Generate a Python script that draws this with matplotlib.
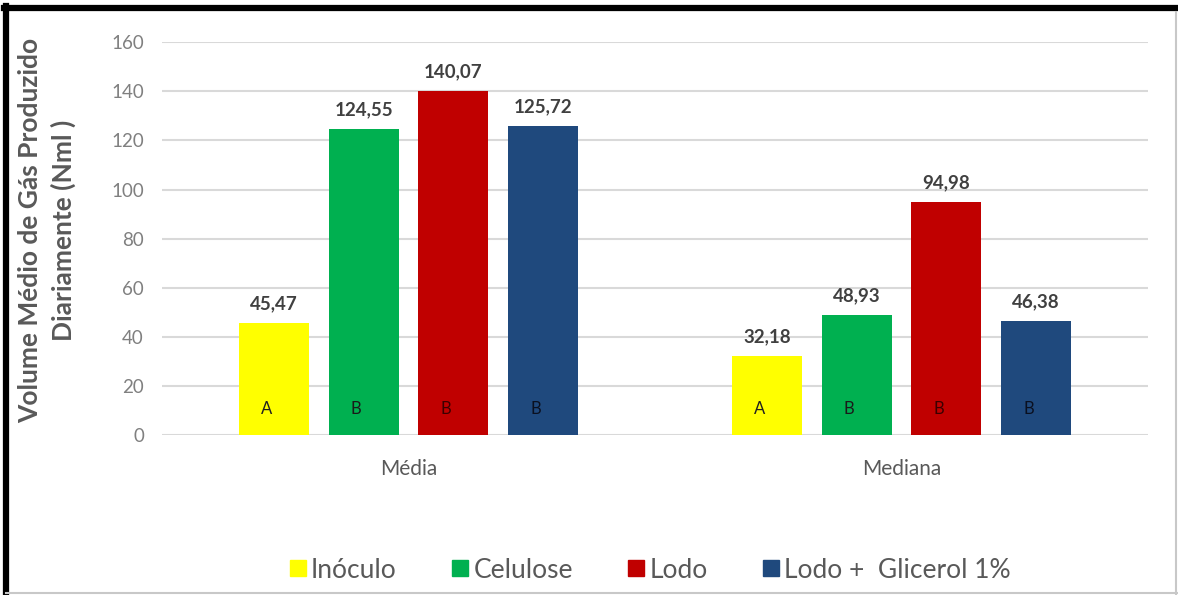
import matplotlib.pyplot as plt
import numpy as np
from matplotlib.lines import Line2D

plt.rcParams['font.family'] = ['Lato', 'DejaVu Sans']

# Daily average gas volume per treatment
categories = ['Média', 'Mediana']
series = ['Inóculo', 'Celulose', 'Lodo', 'Lodo +  Glicerol 1%']
values = {
    'Inóculo': [45.47, 32.18],
    'Celulose': [124.55, 48.93],
    'Lodo': [140.07, 94.98],
    'Lodo +  Glicerol 1%': [125.72, 46.38],
}
letters = {
    'Inóculo': ['A', 'A'],
    'Celulose': ['B', 'B'],
    'Lodo': ['B', 'B'],
    'Lodo +  Glicerol 1%': ['B', 'B'],
}
colors = ['#FFFF00', '#00B050', '#C00000', '#1F497D']
letter_colors = ['#202020', '#1a1a1a', '#3a0000', '#0a1020']

fig = plt.figure(figsize=(11.78, 5.95), dpi=100)
ax = fig.add_axes([0.1375, 0.269, 0.837, 0.660])

x = np.arange(len(categories))
bar_w = 0.142
step = 0.182
offsets = (np.arange(len(series)) - 1.5) * step

for i, name in enumerate(series):
    vals = values[name]
    bars = ax.bar(x + offsets[i], vals, bar_w, color=colors[i], zorder=3)
    for j, b in enumerate(bars):
        cx = b.get_x() + b.get_width() / 2
        ax.text(cx, vals[j] + 4.5, f'{vals[j]:.2f}'.replace('.', ','),
                ha='center', va='bottom', fontsize=13.5, color='#404040',
                fontweight='bold', zorder=4)
        ax.text(cx - 0.015, 10.5, letters[name][j], ha='center', va='center',
                fontsize=12, color=letter_colors[i], zorder=4)

ax.set_xlim(-0.5, 1.5)
ax.set_ylim(0, 160)
ax.set_yticks(range(0, 161, 20))
ax.tick_params(axis='y', length=0, labelsize=13.5, labelcolor='#808080', pad=13)
ax.tick_params(axis='x', length=0, labelsize=15, labelcolor='#595959', pad=17)
ax.set_xticks(x)
ax.set_xticklabels(categories)
ax.grid(axis='y', color='#d9d9d9', linewidth=1.5, zorder=0)
for s in ax.spines.values():
    s.set_visible(False)

fig.text(0.040, 0.613, 'Volume Médio de Gás Produzido\nDiariamente (Nml )',
         rotation=90, ha='center', va='center', fontsize=19,
         fontweight='bold', color='#595959', linespacing=1.4)

handles = [Line2D([], [], marker='s', linestyle='none', markersize=11.5,
                  markerfacecolor=c, markeredgecolor=c) for c in colors]
fig.legend(handles, series, loc='center', bbox_to_anchor=(0.551, 0.042),
           ncol=4, frameon=False, handletextpad=0.1,
           columnspacing=2.0, labelcolor='#595959', handlelength=0.8,
           prop={'size': 19})

# outer frame: heavy black on top and left, light grey on the others
fig.add_artist(Line2D([0.0055, 0.0055], [0, 0.99], color='black', linewidth=4.5,
                      transform=fig.transFigure))
fig.add_artist(Line2D([0.0035, 1], [0.986, 0.986], color='black', linewidth=4.5,
                      transform=fig.transFigure))
fig.add_artist(Line2D([0.998, 0.998], [0, 0.98], color='#c8c8c8', linewidth=1.5,
                      transform=fig.transFigure))
fig.add_artist(Line2D([0.005, 1], [0.003, 0.003], color='#c8c8c8', linewidth=1.5,
                      transform=fig.transFigure))

fig.savefig('out.png', dpi=100)
